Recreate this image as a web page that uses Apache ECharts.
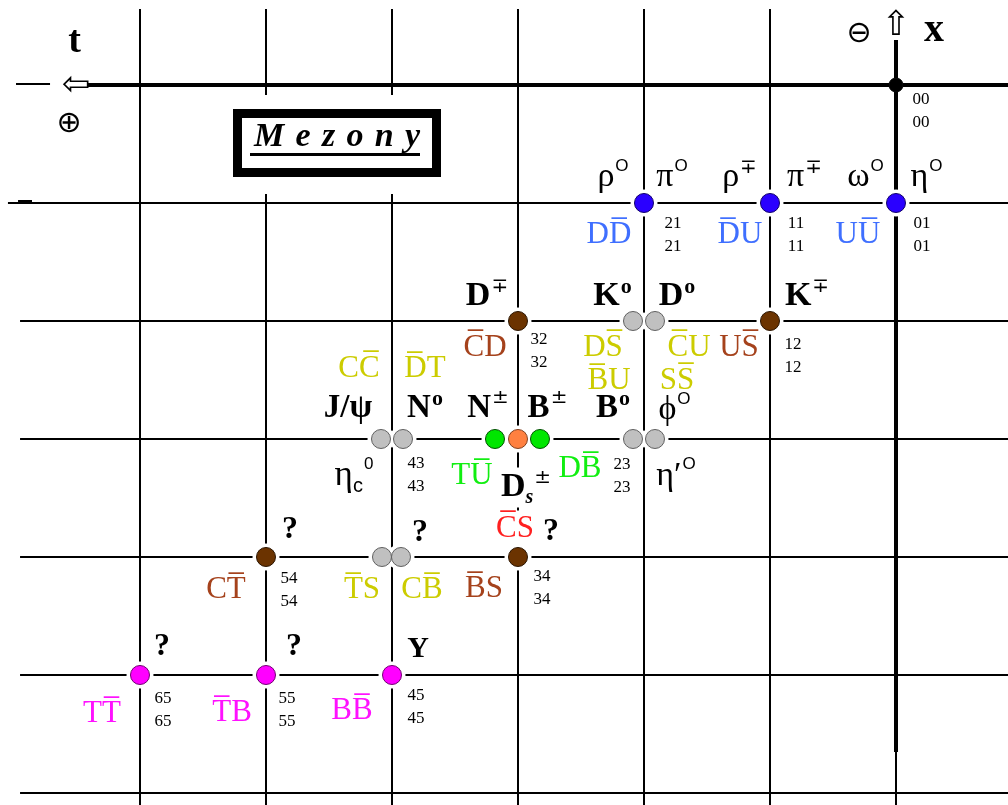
<!DOCTYPE html>
<html><head><meta charset="utf-8">
<script src="https://cdn.jsdelivr.net/npm/echarts@6/dist/echarts.min.js"></script>
<style>html,body{margin:0;padding:0;background:#fff}#c{width:1008px;height:805px}</style>
</head><body><div id="c"></div>
<script>
// ---------------- DATA ----------------
// grid columns (i, increasing to the left) and rows (j, increasing downward)
const gridCols = [0,1,2,3,4,5,6];
const gridRows = [0,1,2,3,4,5,6];
// node codes "ij": column i, row j (also printed twice as small labels)
const nodeCodes = ['00','21','11','01','32','12','43','23','54','34','65','55','45'];
// particle dots: node, kind
const dotNodes = ['00','21','11','01','32','22','22','12','43','43','33','33','33','23','23','54','44','44','34','65','55','45'];
const dotKinds = ['origin','blue','blue','blue','brown','grey','grey','brown','grey','grey','green','orange','green','grey','grey','brown','grey','grey','brown','magenta','magenta','magenta'];
// meson names
const mesonBase = ['ρ','π','ρ','π','ω','η','D','K','D','K','J/ψ','N','N','B','B','ϕ','η','D','η′','?','?','?','?','?','Y'];
const mesonSub  = ['','','','','','','','','','','','','','','','','c','s','','','','','','',''];
const mesonSup  = ['O','O','∓','∓','O','O','∓','o','o','∓','','o','±','±','o','O','0','±','O','','','','','',''];
const mesonNode = ['21','21','11','11','01','01','32','22','22','12','43','43','33','33','23','23','43','33','23','34','44','54','65','55','45'];
const mesonKind = ['g','g','g','g','g','g','b','b','b','b','b','b','b','b','b','g','g','b','g','b','b','b','b','b','b'];
// quark contents (U+0305 = overline = antiquark)
const quarkText = ['DD\u0305','D\u0305U','UU\u0305','C\u0305D','DS\u0305','B\u0305U','C\u0305U','US\u0305','SS\u0305','CC\u0305','D\u0305T','TU\u0305','DB\u0305','C\u0305S','CT\u0305','T\u0305S','CB\u0305','B\u0305S','TT\u0305','T\u0305B','BB\u0305'];
const quarkNode = ['21','11','01','32','22','22','22','12','22','43','43','33','33','34','54','44','44','34','65','55','45'];
const quarkKind = ['blue','blue','blue','brown','yellow','yellow','yellow','brown','yellow','yellow','yellow','green','green','red','brown','yellow','yellow','brown','magenta','magenta','magenta'];
// axis marks
const decorText = ['t','⊕','⇦','⊖','⇧','x'];
const decorNode = ['60','60','60','00','00','00'];

// ---------------- LAYOUT / STYLE ----------------
const xExt = [-0.8889, 7.1111], yExt = [-0.7203, 6.1017];
const dotShift = [0,0,0,0,0,-11,11,0,-11,11,-23,0,22,-11,11,0,-10,9,0,0,0,0];
const dotFill = {origin:'#000000',blue:'#2a00ff',brown:'#6b3300',grey:'#c0c0c0',green:'#00e600',orange:'#ff8040',magenta:'#ff00ff'};
const dotEdge = {origin:'#000000',blue:'#10006a',brown:'#2a1400',grey:'#606060',green:'#005000',orange:'#804020',magenta:'#700070'};
const textColor = {blue:'#3f6fff',brown:'#a5421c',yellow:'#cccc00',green:'#11ee11',red:'#ff2020',magenta:'#ff11ff'};
// [dx, dy, supCentre, subCentre, fontSize]
const mesonLayout = [
 [-31,-25.5,8.5,0,34],[28,-25.5,8.2,0,34],[-30.5,-25.5,1,0,34],[34.5,-25.5,1,0,34],[-30.5,-25.5,3.5,0,34],[30.5,-25.5,7,0,34],
 [-31,-24.5,2.5,0,34],[-31.5,-24.5,10,0,34],[33,-24.5,10,0,34],[37,-24.5,8.5,0,34],
 [-44,-31,0,0,33],[33,-31,12,0,33],[-30,-31,14,0,33],[29.5,-31,15,0,33],[-31,-31,13.6,0,33],[30.5,-28.5,12.5,0,34],
 [-38,37,6.5,32.5,35],[8,48.5,6.5,31.4,34],[32,37,8,0,34],
 [33,-25,0,0,32],[28,-24,0,0,32],[24,-27,0,0,32],[22,-28,0,0,32],[28,-28,0,0,32],[26,-26,0,0,30]
];
const quarkShift = [[-35,31.5],[-30,31.5],[-38,31.5],[-33,26.5],[-41,26.5],[-35,59.5],[45,26.5],[-31,26.5],[33,59.5],[-33,-70.5],[33,-70.5],[-46,36.5],[62,29.5],[-3,-28.5],[-40,32.5],[-30,32.5],[30,32.5],[-34,31.5],[-38,38.5],[-34,37.5],[-40,35.5]];
const codeShift = {'00':[25,26],'21':[29,32],'11':[26,32],'01':[26,32],'32':[21,30.5],'12':[23,35],'43':[24,36.5],'23':[-22,37],'54':[23,33],'34':[24,31],'65':[23,35],'55':[21,35],'45':[24,32]};
const decorLayout = [
 {o:[-65.5,-43], f:'bold 38px "Liberation Serif"'},
 {o:[-71,39], f:'30px "DejaVu Sans"'},
 {o:[-64,1], f:'34px "DejaVu Sans"'},
 {o:[-37,-51], f:'30px "DejaVu Sans"'},
 {o:[0,-59], f:'34px "DejaVu Sans"'},
 {o:[38,-54], f:'bold 40px "Liberation Serif"'}
];
const supFont = {'O':['Liberation Sans','normal',17],'o':['Liberation Serif','bold',22],'∓':['DejaVu Sans','normal',20],'±':['DejaVu Sans','normal',20],'0':['Liberation Sans','normal',17]};

const node = c => [Number(c[0]), Number(c[1])];
const fontObj = f => { // parse 'bold 38px "X"'
  const m = f.match(/^(bold )?(\d+)px "(.+)"$/);
  return {fontWeight: m[1]?'bold':'normal', fontSize:+m[2], fontFamily:m[3]};
};

// ---------------- LINES ----------------
const thin = [], thick = [];
const topJ = (9-85)/118;
gridCols.forEach(i => {
  if (i === 0) {
    thick.push({coords:[[0,-0.381],[0,5.653]]});
    thin.push({coords:[[0,5.653],[0,yExt[1]]]});
  } else thin.push({coords:[[i,topJ],[i,yExt[1]]]});
});
gridRows.forEach(j => {
  if (j === 0) {
    thick.push({coords:[[6.413,0],[xExt[0],0]]});
    thin.push({coords:[[6.984,-0.008],[6.714,-0.008]]});
  } else if (j === 1) thin.push({coords:[[7.048,1],[xExt[0],1]]});
  else thin.push({coords:[[6.952,j],[xExt[0],j]]});
});
const dash = [{coords:[[6.968,0.985],[6.857,0.985]]}];

// ---------------- LABELS ----------------
const labelData = [];
mesonBase.forEach((b,k) => {
  const [dx,dy,supC,subC,fs] = mesonLayout[k];
  const bold = mesonKind[k]==='b';
  const rich = {
    base:{fontFamily:'Liberation Serif',fontWeight:bold?'bold':'normal',fontSize:fs,lineHeight:40,color:'#000',verticalAlign:'middle'}
  };
  let s = '{base|'+b+'}';
  if (mesonSub[k]) {
    const italic = mesonSub[k]==='s';
    rich.sub = {fontFamily: italic?'Liberation Serif':'Liberation Sans', fontStyle: italic?'italic':'normal', fontWeight: italic?'bold':'normal', fontSize: italic?20:20, color:'#000', lineHeight: 2*(40-subC), verticalAlign:'bottom'};
    s += '{sub|'+mesonSub[k]+'}';
  }
  if (mesonSup[k]) {
    const sf = supFont[mesonSup[k]];
    rich.sup = {fontFamily:sf[0],fontWeight:sf[1],fontSize:sf[2],color:'#000',lineHeight:Math.max(1,2*supC),verticalAlign:'top',padding:[0,0,0,1]};
    s += '{sup|'+mesonSup[k]+'}';
  }
  const isDs = b==='D' && mesonSub[k]==='s';
  labelData.push({value:node(mesonNode[k]), label:{show:true,position:'inside',formatter:s,rich,offset:[dx,dy],opacity:1,
    backgroundColor: isDs?'#fff':'transparent'}});
});
quarkText.forEach((t,k) => {
  labelData.push({value:node(quarkNode[k]), label:{show:true,position:'inside',formatter:t,offset:quarkShift[k],opacity:1,
    fontFamily:'Liberation Serif',fontSize:31,lineHeight:36,color:textColor[quarkKind[k]],
    backgroundColor: quarkKind[k]==='red'?'#fff':'transparent'}});
});
nodeCodes.forEach(c => {
  labelData.push({value:node(c), label:{show:true,position:'inside',formatter:c+'\n'+c,offset:codeShift[c],opacity:1,
    fontFamily:'Liberation Serif',fontSize:17,lineHeight:23,color:'#000'}});
});
decorText.forEach((t,k) => {
  labelData.push({value:node(decorNode[k]), label:Object.assign({show:true,position:'inside',formatter:t,offset:decorLayout[k].o,color:'#000',lineHeight:40,opacity:1}, fontObj(decorLayout[k].f))});
});

const dotData = dotNodes.map((n,k) => ({value:node(n), symbolOffset:[dotShift[k],0],
  symbolSize: dotKinds[k]==='origin'?14:19,
  itemStyle:{color:dotFill[dotKinds[k]], borderColor:dotEdge[dotKinds[k]], borderWidth:1, opacity:1}}));
const haloData = dotNodes.map((n,k) => ({value:node(n), symbolOffset:[dotShift[k],0],
  symbolSize: dotKinds[k]==='origin'?14:27}));

const chart = echarts.init(document.getElementById('c'));
chart.setOption({
  animation:false,
  backgroundColor:'#fff',
  grid:{left:0,right:0,top:0,bottom:0},
  xAxis:{type:'value',min:xExt[0],max:xExt[1],inverse:true,show:false},
  yAxis:{type:'value',min:yExt[0],max:yExt[1],inverse:true,show:false},
  series:[
    {type:'lines',coordinateSystem:'cartesian2d',data:thin,lineStyle:{color:'#000',width:2,opacity:1},silent:true,z:1},
    {type:'lines',coordinateSystem:'cartesian2d',data:thick,lineStyle:{color:'#000',width:4,opacity:1},silent:true,z:1},
    {type:'lines',coordinateSystem:'cartesian2d',data:dash,lineStyle:{color:'#000',width:3,opacity:1},silent:true,z:1},
    {type:'scatter',data:haloData,itemStyle:{color:'#fff',opacity:1},silent:true,z:3},
    {type:'scatter',data:dotData,itemStyle:{opacity:1},silent:true,z:4},
    {type:'scatter',data:labelData,symbolSize:1,itemStyle:{color:'rgba(0,0,0,0)',opacity:1},silent:true,z:5}
  ],
  graphic:[
    {type:'rect',shape:{x:226,y:95,width:222,height:99},style:{fill:'#fff'},z:100},
    {type:'rect',shape:{x:237.5,y:113.5,width:199,height:59},style:{fill:'#fff',stroke:'#000',lineWidth:9},z:101},
    {type:'text',x:337,y:137,style:{text:'M\u2004e\u2004z\u2004o\u2004n\u2004y',font:'italic bold 34px "Liberation Serif"',fill:'#000',align:'center',verticalAlign:'middle'},z:102},
    {type:'line',shape:{x1:250,y1:154.5,x2:420,y2:154.5},style:{stroke:'#000',lineWidth:3},z:102}
  ]
});
</script>
</body></html>
